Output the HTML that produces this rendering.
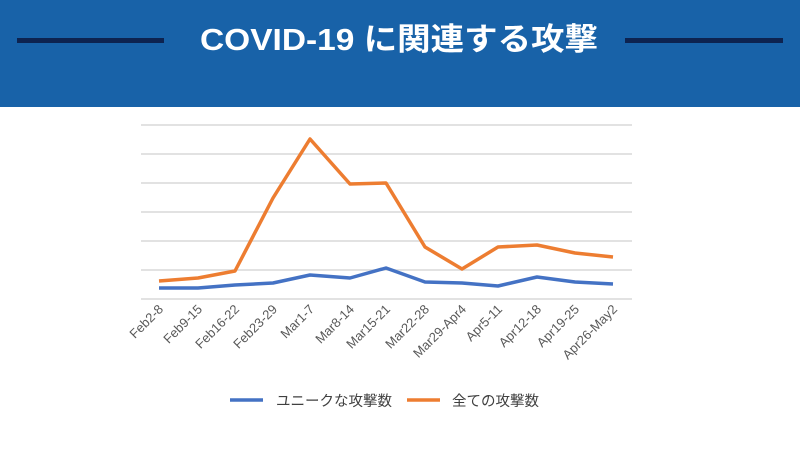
<!DOCTYPE html>
<html><head><meta charset="utf-8"><style>
body{margin:0;width:800px;height:450px;background:#fff;overflow:hidden;font-family:"Liberation Sans","Noto Sans CJK JP",sans-serif}
</style></head><body>
<svg width="800" height="450" xmlns="http://www.w3.org/2000/svg" style="position:absolute;left:0;top:0">
<rect x="0" y="0" width="800" height="107" fill="#1862a8"/>
<rect x="17" y="38" width="147" height="5" fill="#0d2350"/>
<rect x="625" y="38" width="158" height="5" fill="#0d2350"/>
<text x="399" y="50" text-anchor="middle" fill="#fff" font-size="31" font-weight="bold" font-family="Liberation Sans,Noto Sans CJK JP,sans-serif" textLength="398" lengthAdjust="spacingAndGlyphs">COVID-19 に関連する攻撃</text>
<g stroke="#d9d9d9" stroke-width="1.5">
<line x1="141" x2="632" y1="125" y2="125"/><line x1="141" x2="632" y1="154" y2="154"/>
<line x1="141" x2="632" y1="183" y2="183"/><line x1="141" x2="632" y1="212" y2="212"/>
<line x1="141" x2="632" y1="241" y2="241"/><line x1="141" x2="632" y1="270" y2="270"/>
<line x1="141" x2="632" y1="299" y2="299"/>
</g>
<polyline fill="none" stroke="#ed7d31" stroke-width="3.5" stroke-linejoin="round" points="159,281 198,278 235,271 273,198 310,139 350,184 386,183 425,247 462,269 498,247 537,245 575,253 613,257"/>
<polyline fill="none" stroke="#4472c4" stroke-width="3.5" stroke-linejoin="round" points="159,288 198,288 235,285 273,283 310,275 350,278 386,268 425,282 462,283 498,286 537,277 575,282 613,284"/>
<g font-size="13" fill="#595959" text-anchor="end">
<text transform="translate(164,310) rotate(-45)">Feb2-8</text>
<text transform="translate(203,310) rotate(-45)">Feb9-15</text>
<text transform="translate(240,310) rotate(-45)">Feb16-22</text>
<text transform="translate(278,310) rotate(-45)">Feb23-29</text>
<text transform="translate(315,310) rotate(-45)">Mar1-7</text>
<text transform="translate(355,310) rotate(-45)">Mar8-14</text>
<text transform="translate(391,310) rotate(-45)">Mar15-21</text>
<text transform="translate(430,310) rotate(-45)">Mar22-28</text>
<text transform="translate(467,310) rotate(-45)">Mar29-Apr4</text>
<text transform="translate(503,310) rotate(-45)">Apr5-11</text>
<text transform="translate(542,310) rotate(-45)">Apr12-18</text>
<text transform="translate(580,310) rotate(-45)">Apr19-25</text>
<text transform="translate(618,310) rotate(-45)">Apr26-May2</text>
</g>
<line x1="230" x2="263" y1="400" y2="400" stroke="#4472c4" stroke-width="3.5"/>
<line x1="407" x2="440" y1="400" y2="400" stroke="#ed7d31" stroke-width="3.5"/>
<g font-size="14.5" fill="#404040">
<text x="276" y="406">ユニークな攻撃数</text>
<text x="452" y="406">全ての攻撃数</text>
</g>
</svg>
</body></html>
